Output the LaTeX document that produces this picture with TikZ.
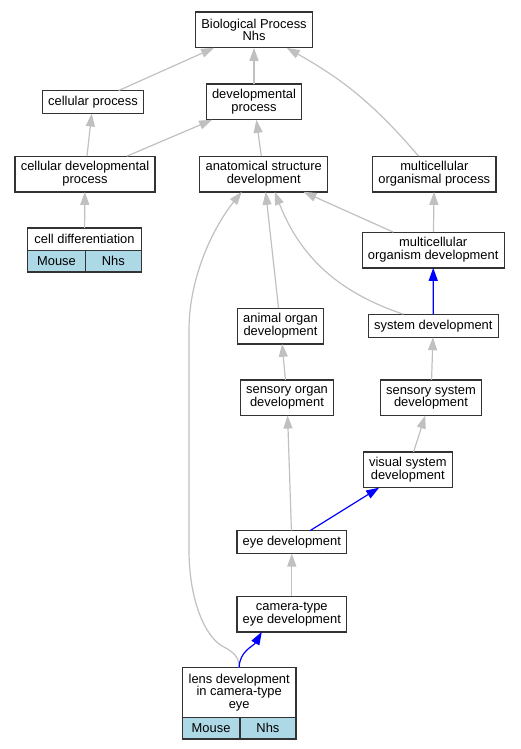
\documentclass[tikz,border=0pt]{standalone}
\usepackage{fontspec}
\setmainfont{Liberation Sans}
\usetikzlibrary{arrows.meta,positioning}
\definecolor{edgegray}{RGB}{192,192,192}
\definecolor{cellblue}{RGB}{173,216,230}

\begin{document}
\begin{tikzpicture}[x=1pt, y=-1pt,
	font=\fontsize{12.9}{12.7}\selectfont,
	term/.style={draw=black!80, line width=1.3pt, fill=white, rectangle, align=center, inner xsep=5.8pt, inner ysep=2pt, outer sep=0pt, minimum height=23pt},
	cell/.style={draw=black!80, line width=1.3pt, fill=cellblue, rectangle, inner sep=0pt, outer sep=0pt, minimum height=21.6pt},
	isa/.style={-{Triangle[length=13pt, width=9pt]}, draw=edgegray, line width=1.2pt},
	partof/.style={-{Triangle[length=13pt, width=9pt]}, draw=blue, line width=1.2pt}]

	\useasboundingbox (0,0) rectangle (520,749);

	\node[term, minimum height=35.7pt] (bio) at (254,30) {Biological Process\\Nhs};
	\node[term] (cellproc) at (93,102) {cellular process};
	\node[term, minimum height=35.7pt] (devproc) at (254,102) {developmental\\process};
	\node[term, minimum height=35.7pt] (celldevproc) at (85,174) {cellular developmental\\process};
	\node[term, minimum height=35.7pt] (anatdev) at (263.7,174) {anatomical structure\\development};
	\node[term, minimum height=35.7pt] (multiproc) at (434.3,174) {multicellular\\organismal process};

	\node[term, minimum width=113.6pt, minimum height=22.3pt] (celldiff) at (84.5,239.2) {cell differentiation};
	\node[cell, minimum width=57.6pt, below right=0pt and 0pt of celldiff.south west] (celldiffmouse) {Mouse};
	\node[cell, minimum width=56pt, below left=0pt and 0pt of celldiff.south east] (celldiffnhs) {Nhs};

	\node[term, minimum height=35.7pt] (multidev) at (433.2,250) {multicellular\\organism development};
	\node[term] (sysdev) at (433.3,325.7) {system development};
	\node[term, minimum height=35.7pt] (organdev) at (280.5,326) {animal organ\\development};
	\node[term, minimum height=35.7pt] (sensorgan) at (287,397.7) {sensory organ\\development};
	\node[term, minimum height=35.7pt] (senssys) at (431,397.7) {sensory system\\development};
	\node[term, minimum height=35.7pt] (vissys) at (407.8,469.8) {visual system\\development};
	\node[term] (eyedev) at (291.8,542) {eye development};
	\node[term, minimum height=35.7pt] (camdev) at (291.8,614) {camera-type\\eye development};

	\node[term, minimum width=113.7pt, minimum height=49.6pt] (lensdev) at (239.2,692.5) {lens development\\in camera-type\\eye};
	\node[cell, minimum width=57.5pt, below right=0pt and 0pt of lensdev.south west] (lensmouse) {Mouse};
	\node[cell, minimum width=56.2pt, below left=0pt and 0pt of lensdev.south east] (lensnhs) {Nhs};

	% is_a
	\draw[isa] (cellproc) -- (bio);
	\draw[isa] (devproc) -- (bio);
	\draw[isa] (multiproc) to[bend right=10] (bio);
	\draw[isa] (celldevproc) -- (cellproc);
	\draw[isa] (celldevproc) -- (devproc);
	\draw[isa] (anatdev) -- (devproc);
	\draw[isa] (celldiff) -- (celldevproc);
	\draw[isa] (multidev) -- (anatdev);
	\draw[isa] (multidev) -- (multiproc);
	\draw[isa] (organdev) -- (anatdev);
	\draw[isa] ([xshift=-30pt]sysdev.north) to[bend left=25] ([xshift=11pt]anatdev.south);
	\draw[isa] (sensorgan) -- (organdev);
	\draw[isa] (eyedev) -- (sensorgan);
	\draw[isa] (senssys) -- (sysdev);
	\draw[isa] (vissys) -- (senssys);
	\draw[isa] (camdev) -- (eyedev);
	\draw[isa] (lensdev.north) .. controls (239,657) and (234,652) .. (222,646) .. controls (205,636) and (189,600) .. (189,550) -- (189,330) .. controls (189,275) and (215,225) .. ([xshift=-22pt]anatdev.south);

	% part_of
	\draw[partof] (sysdev) -- (multidev);
	\draw[partof] (eyedev) -- (vissys);
	\draw[partof] (lensdev.north) to[out=90, in=-120] ([xshift=-30pt]camdev.south);

\end{tikzpicture}
\end{document}
